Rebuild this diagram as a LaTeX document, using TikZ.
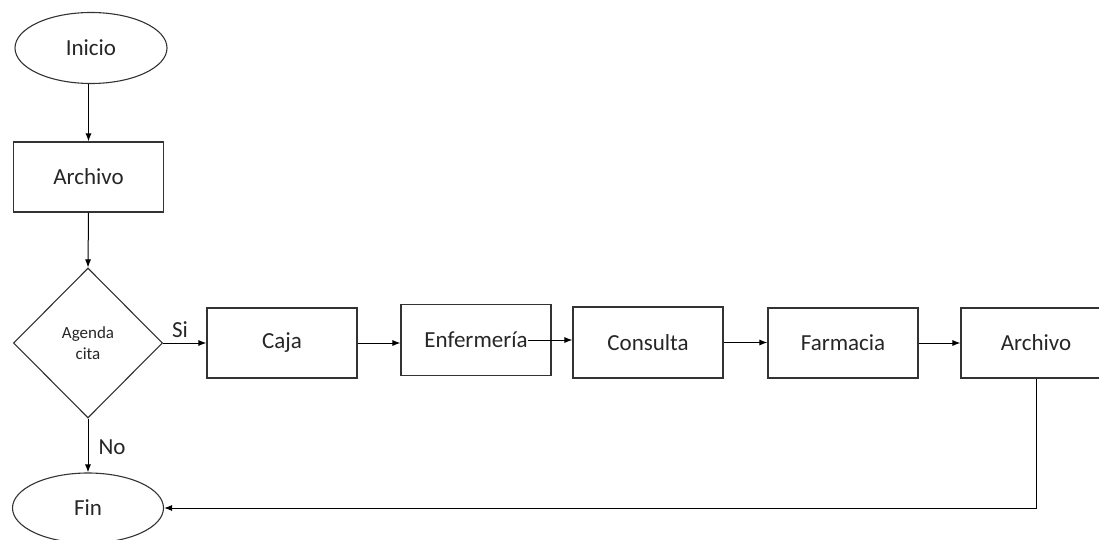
\documentclass[tikz,border=0pt]{standalone}
\usepackage{fontspec}
\setmainfont{Carlito}
\usetikzlibrary{shapes.geometric,arrows.meta}
\begin{document}
\begin{tikzpicture}[x=1pt,y=-1pt,
  every node/.style={font=\fontsize{23}{27}\selectfont, text=black!85},
  proc/.style={draw=black!80, line width=1.1pt, minimum width=150pt, minimum height=70pt, inner sep=0pt},
  term/.style={draw=black!80, line width=1.1pt, ellipse, minimum width=152pt, minimum height=71pt, inner sep=0pt},
  decis/.style={draw=black!80, line width=1.1pt, diamond, minimum width=149pt, minimum height=150pt, inner sep=0pt, align=center, font=\fontsize{17}{21}\selectfont},
  conn/.style={draw=black, line width=1pt, -{Latex[length=8pt,width=6pt]}},
  lbl/.style={inner sep=0pt}]
\useasboundingbox (0,0) rectangle (1099,540);
\node[term] (ini) at (91,48) {Inicio};
\node[proc] (arc1) at (88.5,177) {Archivo};
\node[decis] (dec) at (88,343) {Agenda\\cita};
\node[proc] (caja) at (282,343) {Caja};
\node[proc, minimum height=71pt] (enf) at (476,340) {Enfermería};
\node[proc, minimum height=71pt] (cons) at (648,342.5) {Consulta};
\node[proc] (farm) at (843,343) {Farmacia};
\node[proc] (arc2) at (1036,343) {Archivo};
\node[term, minimum width=151pt, minimum height=70pt] (fin) at (88,508) {Fin};
\node[lbl] (si) at (180,330) {Si};
\node[lbl] (no) at (112,447) {No};
\path (enf.center) ++(52,0) coordinate (enfout);
\coordinate (corner) at (arc2.south |- fin.east);
\draw[conn] (arc1.north |- ini.south) -- (arc1.north);
\draw[conn] (arc1.south) -- (dec.north);
\draw[conn] (dec.east) -- (caja.west);
\draw[conn] (caja.east) -- (enf.west |- caja.east);
\draw[conn] (enfout) -- (cons.west |- enfout);
\draw[conn] (cons.east) -- (farm.west |- cons.east);
\draw[conn] (farm.east) -- (arc2.west |- farm.east);
\draw[conn] (dec.south) -- (fin.north);
\draw[conn] (arc2.south) -- (corner) -- (fin.east);
\end{tikzpicture}
\end{document}
